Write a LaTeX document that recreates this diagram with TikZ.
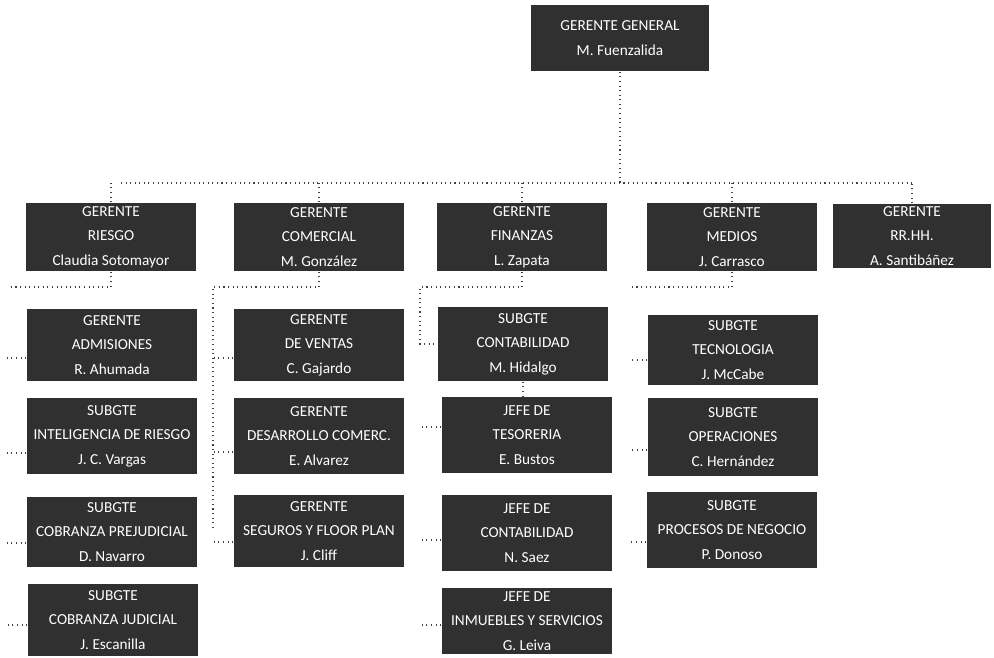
\documentclass[tikz,border=0pt]{standalone}
\usepackage{fontspec}
\setmainfont{Carlito}

\begin{document}
\begin{tikzpicture}[x=0.02cm,y=-0.02cm,
  box/.style={fill=boxgray,text=white,align=center,inner sep=0pt,
    minimum width=3.42cm,minimum height=1.44cm,
    font=\fontsize{8.7}{14}\selectfont},
  conn/.style={line width=0.6pt,black!75,dotted}]
\definecolor{boxgray}{RGB}{48,48,48}
\useasboundingbox (0,0) rectangle (994,658);

\node[box,minimum width=3.56cm,minimum height=1.34cm] (gg) at (620,38) {GERENTE GENERAL\\M. Fuenzalida};

\node[box,minimum height=1.38cm] (riesgo) at (111,237) {GERENTE\\RIESGO\\Claudia Sotomayor};
\node[box,minimum height=1.38cm] (comercial) at (319,237) {GERENTE\\COMERCIAL\\M. González};
\node[box,minimum height=1.38cm] (finanzas) at (522,237) {GERENTE\\FINANZAS\\L. Zapata};
\node[box,minimum height=1.38cm] (medios) at (732,237) {GERENTE\\MEDIOS\\J. Carrasco};
\node[box,minimum height=1.30cm,minimum width=3.18cm] (rrhh) at (912,236) {GERENTE\\RR.HH.\\A. Santibáñez};

\node[box] (adm) at (112,345) {GERENTE\\ADMISIONES\\R. Ahumada};
\node[box,minimum height=1.54cm] (intel) at (112,436) {SUBGTE\\INTELIGENCIA DE RIESGO\\J. C. Vargas};
\node[box,minimum height=1.40cm] (prej) at (112,532) {SUBGTE\\COBRANZA PREJUDICIAL\\D. Navarro};
\node[box] (jud) at (113,620) {SUBGTE\\COBRANZA JUDICIAL\\J. Escanilla};

\node[box] (ventas) at (319,345) {GERENTE\\DE VENTAS\\C. Gajardo};
\node[box,minimum height=1.54cm] (desa) at (319,436) {GERENTE\\DESARROLLO COMERC.\\E. Alvarez};
\node[box] (seg) at (319,531) {GERENTE\\SEGUROS Y FLOOR PLAN\\J. Cliff};

\node[box,minimum height=1.50cm] (cont) at (523,344) {SUBGTE\\CONTABILIDAD\\M. Hidalgo};
\node[box,minimum height=1.52cm] (tes) at (527,435) {JEFE DE\\TESORERIA\\E. Bustos};
\node[box,minimum height=1.54cm] (jcont) at (527,533) {JEFE DE\\CONTABILIDAD\\N. Saez};
\node[box,minimum height=1.34cm] (inm) at (527,621) {JEFE DE\\INMUEBLES Y SERVICIOS\\G. Leiva};

\node[box,minimum height=1.40cm] (tec) at (733,350) {SUBGTE\\TECNOLOGIA\\J. McCabe};
\node[box,minimum height=1.58cm] (ope) at (733,437) {SUBGTE\\OPERACIONES\\C. Hernández};
\node[box,minimum height=1.52cm] (proc) at (732,530) {SUBGTE\\PROCESOS DE NEGOCIO\\P. Donoso};

\coordinate (busL) at (121,183);
\coordinate (busR) at (915,183);
\draw[conn] (busL) -- (busR);
\draw[conn] (gg.south) -- (gg.south |- busL);
\draw[conn] (riesgo.north) -- (riesgo.north |- busL);
\draw[conn] (comercial.north) -- (comercial.north |- busL);
\draw[conn] (finanzas.north) -- (finanzas.north |- busL);
\draw[conn] (medios.north) -- (medios.north |- busL);
\draw[conn] (rrhh.north) -- (rrhh.north |- busL);

\coordinate (g1) at (8,287);
\coordinate (g2) at (213,287);
\coordinate (g3) at (420,287);
\coordinate (g4) at (630,287);
\draw[conn] (riesgo.south) |- (g1);
\draw[conn] (comercial.south) |- (g2) -- (g2 |- seg.west);
\draw[conn] (finanzas.south) |- (g3) |- (cont.west);
\draw[conn] (medios.south) |- (g4);
\draw[conn] (cont.south) -- (cont.south |- tes.north);

\draw[conn] ([yshift=-0.26cm]adm.west) -- ++(-19,0);
\draw[conn] ([yshift=-0.34cm]intel.west) -- ++(-19,0);
\draw[conn] ([yshift=-0.22cm]prej.west) -- ++(-19,0);
\draw[conn] ([yshift=-0.10cm]jud.west) -- ++(-19,0);
\draw[conn] ([yshift=-0.26cm]ventas.west) -- ++(-20,0);
\draw[conn] ([yshift=-0.32cm]desa.west) -- ++(-20,0);
\draw[conn] ([yshift=-0.22cm]seg.west) -- ++(-20,0);
\draw[conn] ([yshift=0.16cm]tes.west) -- ++(-22,0);
\draw[conn] ([yshift=-0.14cm]jcont.west) -- ++(-22,0);
\draw[conn] ([yshift=-0.08cm]inm.west) -- ++(-22,0);
\draw[conn] ([yshift=-0.20cm]tec.west) -- ++(-18,0);
\draw[conn] ([yshift=-0.26cm]ope.west) -- ++(-18,0);
\draw[conn] ([yshift=-0.24cm]proc.west) -- ++(-18,0);
\end{tikzpicture}
\end{document}
